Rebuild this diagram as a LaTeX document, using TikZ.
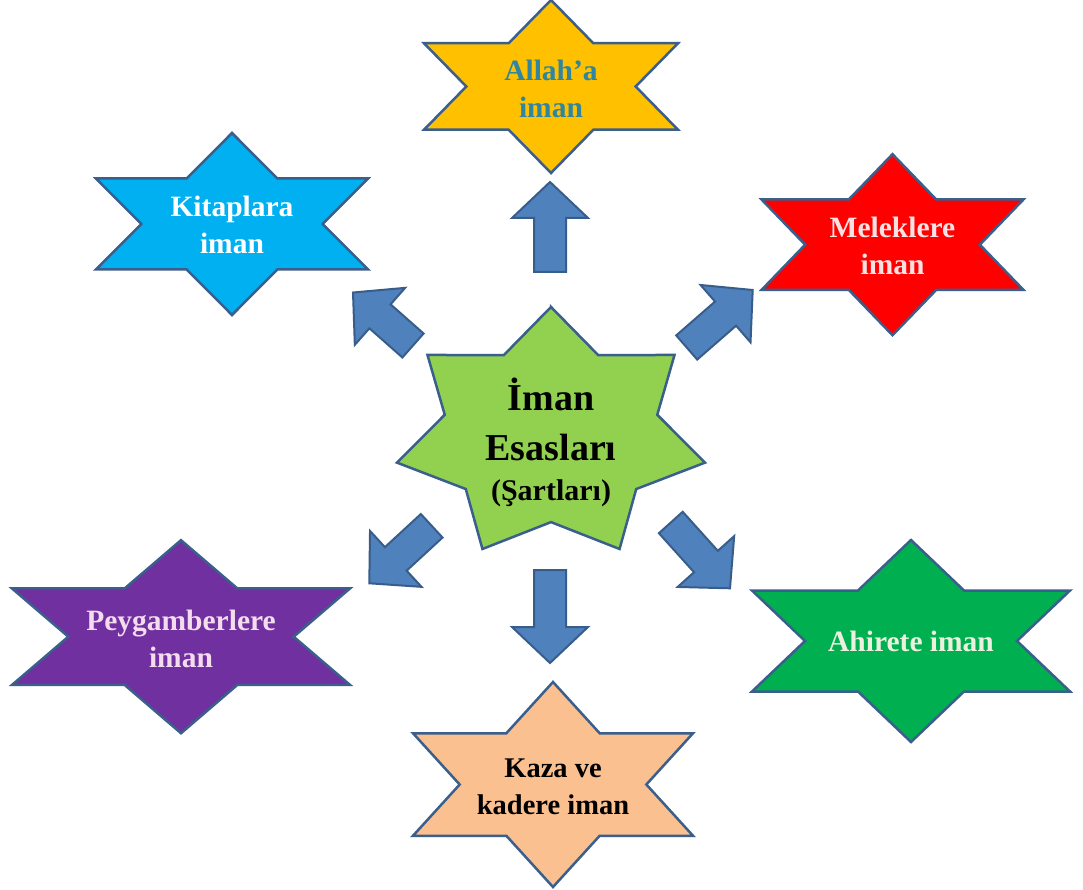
\documentclass[tikz,border=0pt]{standalone}
\usepackage{fontspec}
\setmainfont{Liberation Serif}
\usetikzlibrary{calc}
\definecolor{edge}{HTML}{3A5F8C}
\definecolor{arrowfill}{HTML}{4F81BD}
\definecolor{arrowedge}{HTML}{385D8A}
\definecolor{cyellow}{HTML}{FFC000}
\definecolor{cblue}{HTML}{00B0F0}
\definecolor{cred}{HTML}{FF0000}
\definecolor{cpurple}{HTML}{7030A0}
\definecolor{cgreen}{HTML}{00B050}
\definecolor{corange}{HTML}{FAC090}
\definecolor{clime}{HTML}{92D050}
\definecolor{tteal}{HTML}{31859C}
\definecolor{tpink}{HTML}{F6E2E2}
\definecolor{tlav}{HTML}{F2DCEE}
\definecolor{tgreen}{HTML}{EBF1DE}
\tikzset{
  starshape/.style={draw=edge, line width=2.5pt, line join=miter},
  blockarrow/.style={draw=arrowedge, fill=arrowfill, line width=2pt, line join=miter},
  lbl/.style={align=center, font=\bfseries\fontsize{29.5}{37}\selectfont, inner sep=0pt},
}
% name, cx, cy, W, H, fill
\newcommand\hexstar[6]{%
  \draw[starshape, fill=#6, shift={(#2,#3)}]
    (0,{-#5/2}) -- ({#4/6},{-#5/4}) -- ({#4/2},{-#5/4}) -- ({#4/3},0)
    -- ({#4/2},{#5/4}) -- ({#4/6},{#5/4}) -- (0,{#5/2}) -- ({-#4/6},{#5/4})
    -- ({-#4/2},{#5/4}) -- ({-#4/3},0) -- ({-#4/2},{-#5/4}) -- ({-#4/6},{-#5/4}) -- cycle;
  \coordinate (#1) at (#2,#3);
}
% name, tail, tip
\newcommand\barrow[3]{%
  \coordinate (#1h) at ($(#3)!36pt!(#2)$);
  \draw[blockarrow] ($(#2)!16pt!90:(#3)$) -- ($(#1h)!16pt!90:(#3)$) -- ($(#1h)!38pt!90:(#3)$)
    -- (#3) -- ($(#1h)!38pt!-90:(#3)$) -- ($(#1h)!16pt!-90:(#3)$) -- ($(#2)!16pt!-90:(#3)$) -- cycle;
}
\begin{document}
\begin{tikzpicture}[x=1pt,y=-1pt]
\fill[white] (0,0) rectangle (1083,890);
\useasboundingbox (0,0) rectangle (1083,890);

% six-point stars
\hexstar{allah}{551}{86.5}{254}{173}{cyellow}
\hexstar{kitap}{232}{224}{272}{182}{cblue}
\hexstar{melek}{892.5}{244.7}{262}{181}{cred}
\hexstar{peygamber}{181}{636.7}{338}{193}{cpurple}
\hexstar{ahiret}{911}{641}{318}{202}{cgreen}
\hexstar{kaza}{553}{784.5}{280}{205}{corange}

% central seven-point star
\coordinate (center) at (551,434.3);
\begin{scope}[shift={(551,434.3)}]
\draw[starshape, fill=clime] (90:158pt and 127.3pt)
  \foreach \k in {0,...,6} { -- ({90-\k*51.4286-25.7143}:109pt and 87.8pt) -- ({90-(\k+1)*51.4286}:158pt and 127.3pt) } -- cycle;
\end{scope}

% arrows
\coordinate (upT) at (550,272);   \coordinate (upP) at (550,182);
\coordinate (dnT) at (550,570);   \coordinate (dnP) at (550,663);
\coordinate (ulT) at (413,345.5); \coordinate (ulP) at (353,292.5);
\coordinate (urT) at (686.7,347.5); \coordinate (urP) at (752.7,290);
\coordinate (llT) at (431.7,525.8); \coordinate (llP) at (369.3,583.3);
\coordinate (lrT) at (670.8,522.5); \coordinate (lrP) at (730,588.3);
\barrow{up}{upT}{upP}
\barrow{dn}{dnT}{dnP}
\barrow{ul}{ulT}{ulP}
\barrow{ur}{urT}{urP}
\barrow{ll}{llT}{llP}
\barrow{lr}{lrT}{lrP}

% labels
\node[lbl, text=tteal] (tallah) at ($(allah)+(0,2)$) {Allah’a\\iman};
\node[lbl, text=white] (tkitap) at ($(kitap)+(0,1)$) {Kitaplara\\iman};
\node[lbl, text=tpink] (tmelek) at ($(melek)+(0,1)$) {Meleklere\\iman};
\node[lbl, text=tlav] (tpeyg) at ($(peygamber)+(0,2)$) {Peygamberlere\\iman};
\node[lbl, text=tgreen] (tahiret) at ($(ahiret)+(0,0)$) {Ahirete iman};
\node[lbl, text=black, font=\bfseries\fontsize{28.5}{37}\selectfont] (tkaza) at ($(kaza)+(0,2)$) {Kaza ve\\kadere iman};
\node[align=center, inner sep=0pt, font=\bfseries\fontsize{38}{50}\selectfont] (tcenter) at ($(center)+(0,8)$)
  {İman\\Esasları\\[-10pt]{\fontsize{30}{36}\selectfont(Şartları)}};
\end{tikzpicture}
\end{document}
